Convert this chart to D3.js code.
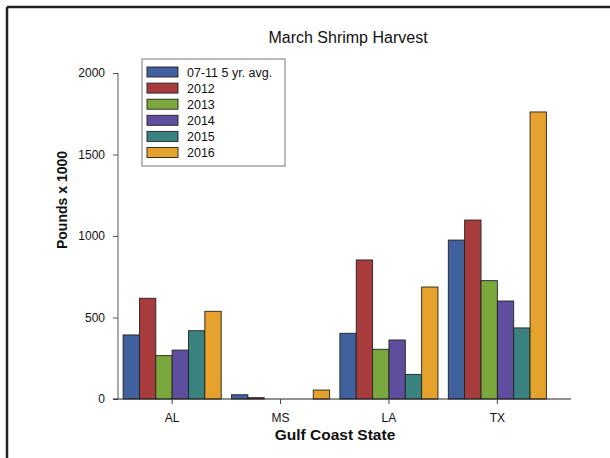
<!DOCTYPE html>
<html>
<head>
<meta charset="utf-8">
<script src="https://cdn.jsdelivr.net/npm/d3@7"></script>
<style>
  body { margin: 0; background: #fff; }
  svg { display: block; font-family: Arial, "Liberation Sans", sans-serif; }
</style>
</head>
<body>
<div id="chart"></div>
<script>
// datos (libras x 1000)
const states = ["AL", "MS", "LA", "TX"];
const series = ["07-11 5 yr. avg.", "2012", "2013", "2014", "2015", "2016"];
const avg0711 = [393, 26, 403, 975];
const y2012 = [618, 8, 853, 1098];
const y2013 = [266, 0, 305, 726];
const y2014 = [300, 0, 362, 601];
const y2015 = [419, 0, 151, 436];
const y2016 = [538, 55, 687, 1761];
const yTicks = [0, 500, 1000, 1500, 2000];
const colors = ["#41609E", "#A83C3C", "#7BA83C", "#5F4E9E", "#3A8280", "#E5A22C"];

const values = [avg0711, y2012, y2013, y2014, y2015, y2016];

const width = 610;
const height = 458;

let svg = d3.select("#chart").append("svg")
  .attr("width", width)
  .attr("height", height);

// marco (solo arriba e izquierda)
svg.append("line").attr("x1", 7).attr("y1", 7).attr("x2", width).attr("y2", 7)
  .attr("stroke", "#222").attr("stroke-width", 2.5);
svg.append("line").attr("x1", 7).attr("y1", 7).attr("x2", 7).attr("y2", height)
  .attr("stroke", "#222").attr("stroke-width", 2.5);

let x0 = d3.scaleBand().domain(states).range([118, 551.5]).paddingInner(0.095).paddingOuter(0.047);
let x1 = d3.scaleBand().domain(d3.range(series.length)).range([0, x0.bandwidth()]);
let y = d3.scaleLinear().domain([0, 2000]).range([399, 73]);

// barras
let groups = svg.append("g").selectAll("g")
  .data(states)
  .join("g")
  .attr("transform", d => `translate(${x0(d)},0)`);

groups.selectAll("rect")
  .data((d, i) => values.map((s, k) => ({k: k, v: s[i]})))
  .join("rect")
  .filter(d => d.v > 0)
  .attr("x", d => x1(d.k))
  .attr("width", x1.bandwidth())
  .attr("y", d => y(d.v))
  .attr("height", d => y(0) - y(d.v))
  .attr("fill", d => colors[d.k])
  .attr("stroke", "#222")
  .attr("stroke-width", 0.9);

// eje y
let yAxis = svg.append("g")
  .attr("transform", "translate(118,0)")
  .call(d3.axisLeft(y).tickValues(yTicks).tickSize(5).tickPadding(8).tickFormat(d3.format("d")));
yAxis.select(".domain").attr("stroke", "#555").attr("d", "M0,73V399");
yAxis.selectAll(".tick line").attr("stroke", "#555");
yAxis.selectAll("text").attr("font-size", 12).attr("fill", "#111").attr("font-family", "Arial, 'Liberation Sans', sans-serif");

// eje x
let xAxis = svg.append("g")
  .attr("transform", "translate(0,399)")
  .call(d3.axisBottom(x0).tickSize(5).tickPadding(9));
xAxis.select(".domain").attr("stroke", "#222").attr("d", "M113,0H571");
xAxis.selectAll(".tick line").attr("stroke", "#444");
xAxis.selectAll("text").attr("font-size", 12).attr("fill", "#111").attr("font-family", "Arial, 'Liberation Sans', sans-serif");

// titulos
svg.append("text")
  .attr("x", 348).attr("y", 43)
  .attr("text-anchor", "middle")
  .attr("font-size", 16)
  .attr("fill", "#111")
  .text("March Shrimp Harvest");

svg.append("text")
  .attr("x", 335).attr("y", 440)
  .attr("text-anchor", "middle")
  .attr("font-size", 15.5)
  .attr("font-weight", "bold")
  .attr("fill", "#111")
  .text("Gulf Coast State");

svg.append("text")
  .attr("transform", "translate(67,200) rotate(-90)")
  .attr("text-anchor", "middle")
  .attr("font-size", 14)
  .attr("font-weight", "bold")
  .attr("fill", "#111")
  .text("Pounds x 1000");

// leyenda
let legend = svg.append("g");
legend.append("rect")
  .attr("x", 142).attr("y", 59).attr("width", 143).attr("height", 107)
  .attr("fill", "#fff").attr("stroke", "#777").attr("stroke-width", 1);

let items = legend.selectAll("g.item")
  .data(series)
  .join("g")
  .attr("class", "item")
  .attr("transform", (d, i) => `translate(147,${67 + i * 16.1})`);

items.append("rect")
  .attr("width", 31).attr("height", 10)
  .attr("fill", (d, i) => colors[i])
  .attr("stroke", "#222").attr("stroke-width", 0.9);

items.append("text")
  .attr("x", 40).attr("y", 9.5)
  .attr("font-size", 12.5)
  .attr("fill", "#111")
  .text(d => d);
</script>
</body>
</html>
